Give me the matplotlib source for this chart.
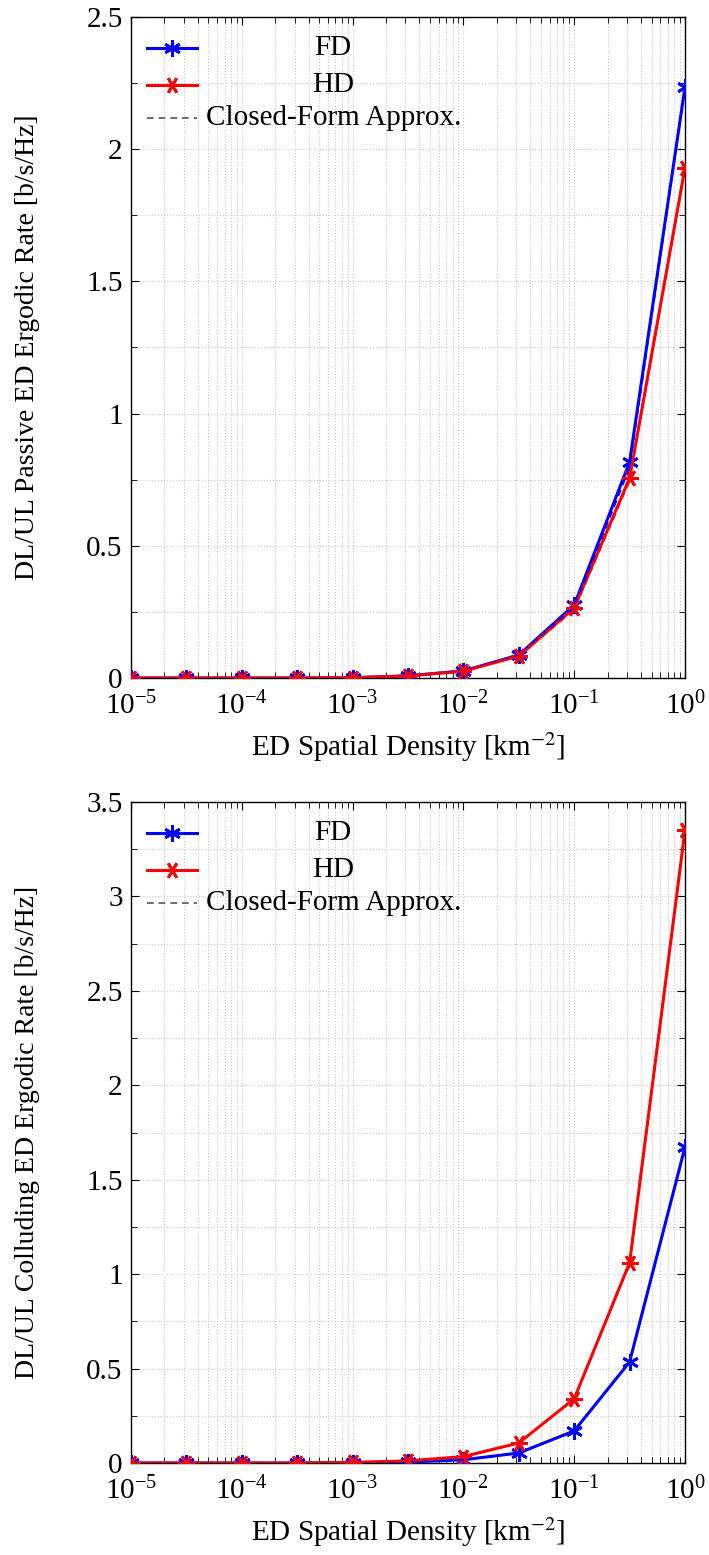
import matplotlib
matplotlib.use('Agg')
import matplotlib.pyplot as plt
from matplotlib.lines import Line2D
from matplotlib.ticker import MultipleLocator, FuncFormatter, LogLocator
import numpy as np

plt.rcParams['font.family'] = ['Liberation Serif', 'DejaVu Serif']
plt.rcParams['mathtext.fontset'] = 'stix'
plt.rcParams['font.size'] = 21

# ED spatial density [km^-2]
density = [1e-5, 10**-4.5, 1e-4, 10**-3.5, 1e-3, 10**-2.5, 1e-2, 10**-1.5, 1e-1, 10**-0.5, 1.0]

# passive ED
passive_fd = [0.0, 0.0, 0.0, 0.0, 0.001, 0.008, 0.027, 0.087, 0.276, 0.817, 2.235]
passive_hd = [0.0, 0.0, 0.0, 0.0, 0.001, 0.008, 0.026, 0.083, 0.265, 0.756, 1.93]
passive_fd_cf = [0.0, 0.0, 0.0, 0.0, 0.001, 0.008, 0.026, 0.085, 0.268, 0.795, 2.23]
passive_hd_cf = [0.0, 0.0, 0.0, 0.0, 0.001, 0.008, 0.026, 0.082, 0.258, 0.745, 1.925]

# colluding ED
coll_fd = [0.0, 0.0, 0.0, 0.0, 0.0017, 0.005, 0.017, 0.053, 0.17, 0.535, 1.673]
coll_hd = [0.0, 0.0, 0.0, 0.0, 0.0034, 0.011, 0.034, 0.106, 0.34, 1.06, 3.35]
coll_fd_cf = coll_fd
coll_hd_cf = coll_hd

fig = plt.figure(figsize=(7.09, 15.55), dpi=100)

left, width, height = 131/709, 554/709, 661/1555
ax1 = fig.add_axes([left, (1555-678)/1555, width, height])
ax2 = fig.add_axes([left, (1555-1463)/1555, width, height])

blue = '#0000ff'
red = '#ff0000'
mk_fd = (6, 2, 0)
mk_hd = (6, 2, 90)


def draw(ax, fd, hd, fd_cf, hd_cf, ymax, ylabel):
    ax.plot(density, fd, color=blue, lw=2.2, marker=mk_fd, ms=12, mew=2.0, zorder=3)
    ax.plot(density, hd, color=red, lw=2.2, marker=mk_hd, ms=12, mew=2.0, zorder=3)
    ax.plot(density, fd_cf, color=blue, lw=1.2, ls=(0, (4, 3)), zorder=4)
    ax.plot(density, hd_cf, color=red, lw=1.2, ls=(0, (4, 3)), zorder=4)

    ax.set_xscale('log')
    ax.set_xlim(1e-5, 1)
    ax.set_ylim(0, ymax)
    ax.xaxis.set_major_locator(LogLocator(base=10, numticks=10))
    ax.xaxis.set_minor_locator(LogLocator(base=10, subs=np.arange(2, 10), numticks=20))
    ax.yaxis.set_major_locator(MultipleLocator(0.5))
    ax.yaxis.set_minor_locator(MultipleLocator(0.25))
    ax.yaxis.set_major_formatter(FuncFormatter(lambda v, p: '%g' % v))

    ax.grid(which='both', color='#c8c8c8', ls=':', lw=0.8)
    ax.tick_params(which='both', direction='in', top=True, right=True,
                   labelsize=21)
    ax.tick_params(axis='x', pad=10)
    ax.tick_params(axis='y', pad=6)
    ax.tick_params(which='major', length=6)
    ax.tick_params(which='minor', length=4)
    for s in ax.spines.values():
        s.set_linewidth(1.0)

    ax.set_xlabel('ED Spatial Density [km$^{-2}$]', fontsize=21, labelpad=7)
    ax.set_ylabel(ylabel, fontsize=20)
    ax.yaxis.set_label_coords(-0.164, 0.5)

    # manual legend, labels centred as in pgfplots
    rows = [0.953, 0.897, 0.847]
    x0, x1, xt = 0.029, 0.119, 0.365
    ax.add_line(Line2D([x0, x1], [rows[0]] * 2, color=blue, lw=2.2, transform=ax.transAxes))
    ax.add_line(Line2D([(x0 + x1) / 2], [rows[0]], color=blue, marker=mk_fd, ms=12, mew=2.0,
                       transform=ax.transAxes))
    ax.add_line(Line2D([x0, x1], [rows[1]] * 2, color=red, lw=2.2, transform=ax.transAxes))
    ax.add_line(Line2D([(x0 + x1) / 2], [rows[1]], color=red, marker=mk_hd, ms=12, mew=2.0,
                       transform=ax.transAxes))
    ax.add_line(Line2D([x0, x1], [rows[2]] * 2, color='#555555', lw=1.2, ls=(0, (4, 3)),
                       transform=ax.transAxes))
    ax.text(xt, rows[0], 'FD', transform=ax.transAxes, ha='center', va='center')
    ax.text(xt, rows[1], 'HD', transform=ax.transAxes, ha='center', va='center')
    ax.text(xt, rows[2], 'Closed-Form Approx.', transform=ax.transAxes, ha='center',
            va='center')


draw(ax1, passive_fd, passive_hd, passive_fd_cf, passive_hd_cf, 2.5,
     'DL/UL Passive ED Ergodic Rate [b/s/Hz]')
draw(ax2, coll_fd, coll_hd, coll_fd_cf, coll_hd_cf, 3.5,
     'DL/UL Colluding ED Ergodic Rate [b/s/Hz]')

fig.savefig('out.png', dpi=100, facecolor='white')
